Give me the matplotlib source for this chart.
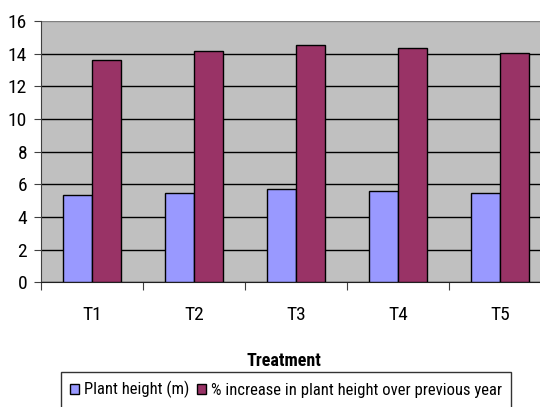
import matplotlib
matplotlib.use("Agg")
import matplotlib.pyplot as plt
import numpy as np

plt.rcParams['font.family'] = ['Roboto Condensed', 'Liberation Sans', 'DejaVu Sans']

treatments = ["T1", "T2", "T3", "T4", "T5"]
plant_height = [5.36, 5.46, 5.7, 5.6, 5.46]
pct_increase = [13.6, 14.15, 14.5, 14.35, 14.05]
y_ticks = [0, 2, 4, 6, 8, 10, 12, 14, 16]

fig = plt.figure(figsize=(5.4, 4.07), dpi=100)
ax = fig.add_axes([41/540, 1 - 282.3/407, 510/540, 261.3/407])
ax.set_facecolor("#C0C0C0")

x = np.arange(len(treatments)) + 0.5
w = 0.285
ax.bar(x - w/2, plant_height, width=w, color="#9999FF", edgecolor="black",
       linewidth=1.0, zorder=3, label="Plant height (m)")
ax.bar(x + w/2, pct_increase, width=w, color="#993366", edgecolor="black",
       linewidth=1.0, zorder=3, label="% increase in plant height over previous year")

ax.set_xlim(0, len(treatments))
ax.set_ylim(0, 16)
ax.set_yticks(y_ticks)
ax.set_yticklabels([str(v) for v in y_ticks], fontsize=14)
ax.yaxis.grid(True, color="black", linewidth=1.0, zorder=1)
ax.set_axisbelow(True)
# the top edge of the plot area is drawn lighter than the inner gridlines
ax.get_ygridlines()[-1].set_color("#808080")

ax.set_xticks(np.arange(len(treatments) + 1))
ax.set_xticklabels([])
ax.set_xticks(x, minor=True)
ax.set_xticklabels(treatments, minor=True, fontsize=14)
ax.tick_params(axis='x', which='minor', length=0, pad=17)
ax.tick_params(axis='x', which='major', length=6, color="#404040", direction='out')
ax.tick_params(axis='y', length=5, color="#404040", direction='out', pad=5)

for s in ["top", "right"]:
    ax.spines[s].set_visible(False)
ax.spines["left"].set_color("#404040")
ax.spines["bottom"].set_color("#202020")

fig.text(284/540, 1 - 361/407, "Treatment", ha="center", va="center",
         fontsize=13, fontweight="bold")

leg = fig.legend(loc="upper center", bbox_to_anchor=(286/540, 1 - 372/407),
                 ncol=2, fontsize=12, frameon=True, fancybox=False,
                 edgecolor="black", handlelength=0.55, handleheight=0.55,
                 handletextpad=0.3, columnspacing=0.4, borderpad=0.55,
                 borderaxespad=0)
leg.get_frame().set_linewidth(1.0)

fig.savefig("out.png", dpi=100)
